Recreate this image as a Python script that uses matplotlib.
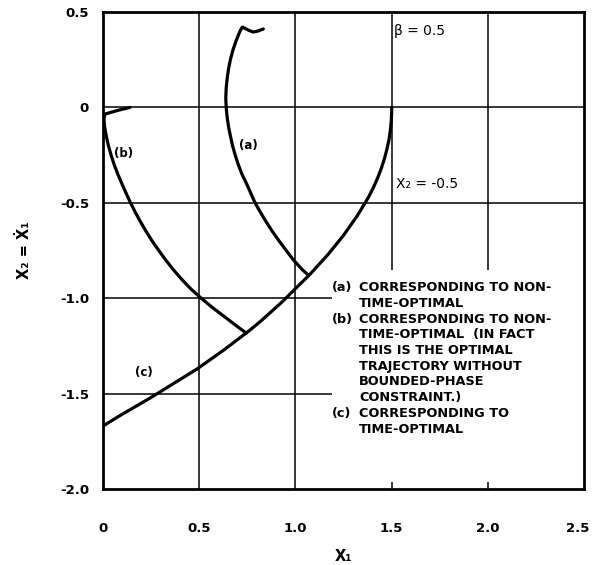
import matplotlib
matplotlib.use("Agg")
import matplotlib.pyplot as plt
from matplotlib.transforms import ScaledTranslation

# Trayectorias (x1, x2)
a_x1 = [0.833, 0.805, 0.78, 0.755, 0.724, 0.712, 0.692, 0.675, 0.662, 0.652, 0.645, 0.64,
        0.638, 0.64, 0.645, 0.652, 0.662, 0.673, 0.687, 0.703, 0.722, 0.746, 0.768, 0.79,
        0.818, 0.848, 0.88, 0.915, 0.952, 0.99, 1.035, 1.068]
a_x2 = [0.411, 0.40, 0.395, 0.405, 0.421, 0.40, 0.35, 0.30, 0.25, 0.20, 0.15, 0.10,
        0.05, 0.0, -0.05, -0.10, -0.15, -0.20, -0.25, -0.30, -0.35, -0.40, -0.45, -0.50,
        -0.55, -0.60, -0.65, -0.70, -0.75, -0.80, -0.85, -0.88]

b_x1 = [0.14, 0.08, 0.01, 0.005, 0.008, 0.017, 0.028, 0.042, 0.058, 0.077, 0.098, 0.12,
        0.143, 0.168, 0.195, 0.224, 0.255, 0.29, 0.326, 0.365, 0.408, 0.455, 0.51, 0.57,
        0.635, 0.70, 0.745]
b_x2 = [0.0, -0.015, -0.035, -0.06, -0.10, -0.15, -0.20, -0.25, -0.30, -0.35, -0.40, -0.45,
        -0.50, -0.55, -0.60, -0.65, -0.70, -0.75, -0.80, -0.85, -0.90, -0.95, -1.00, -1.05,
        -1.10, -1.15, -1.183]

c_x1 = [0.0, 0.08, 0.165, 0.25, 0.33, 0.41, 0.49, 0.56, 0.63, 0.695, 0.76, 0.82, 0.875,
        0.93, 0.98, 1.03, 1.08, 1.125, 1.17, 1.21, 1.25, 1.285, 1.32, 1.35, 1.38, 1.405,
        1.427, 1.446, 1.462, 1.475, 1.486, 1.493, 1.498, 1.50, 1.50]
c_x2 = [-1.67, -1.62, -1.57, -1.52, -1.47, -1.42, -1.37, -1.32, -1.27, -1.22, -1.17,
        -1.12, -1.07, -1.02, -0.97, -0.92, -0.87, -0.82, -0.77, -0.72, -0.67, -0.62,
        -0.57, -0.52, -0.47, -0.42, -0.37, -0.32, -0.27, -0.22, -0.17, -0.12, -0.07,
        -0.02, 0.0]

x_ticks = [0, 0.5, 1.0, 1.5, 2.0, 2.5]
x_tick_labels = ["0", "0.5", "1.0", "1.5", "2.0", "2.5"]
y_ticks = [0.5, 0, -0.5, -1.0, -1.5, -2.0]
y_tick_labels = ["0.5", "0", "-0.5", "-1.0", "-1.5", "-2.0"]

notes = [
    ("(a)", ["CORRESPONDING TO NON-", "TIME-OPTIMAL"]),
    ("(b)", ["CORRESPONDING TO NON-", "TIME-OPTIMAL  (IN FACT", "THIS IS THE OPTIMAL",
             "TRAJECTORY WITHOUT", "BOUNDED-PHASE", "CONSTRAINT.)"]),
    ("(c)", ["CORRESPONDING TO", "TIME-OPTIMAL"]),
]

fig = plt.figure(figsize=(5.94, 5.65), dpi=100)
ax = fig.add_axes([0.1734, 0.1345, 0.810, 0.8443])
ax.set_xlim(0, 2.5)
ax.set_ylim(-2.0, 0.5)

# ---------- Rejilla (algunas lineas cortadas por el texto) ----------
gkw = dict(color="black", lw=1.1, zorder=1)
ax.vlines([0.5, 1.0], -2.0, 0.5, **gkw)
ax.vlines([1.5, 2.0], -0.852, 0.5, **gkw)
ax.vlines([1.5, 2.0], -2.0, -1.965, **gkw)
ax.hlines([0.0, -0.5], 0, 2.5, **gkw)
ax.hlines([-1.0, -1.5], 0, 1.19, **gkw)

# ---------- Curvas ----------
lkw = dict(color="black", lw=2.3, solid_joinstyle="round", solid_capstyle="round", zorder=3)
ax.plot(a_x1, a_x2, **lkw)
ax.plot(b_x1, b_x2, **lkw)
ax.plot(c_x1, c_x2, **lkw)

# ---------- Textos ----------
ax.text(0.755, -0.20, "(a)", fontsize=8.5, fontweight="bold", ha="center", va="center")
ax.text(0.105, -0.24, "(b)", fontsize=8.5, fontweight="bold", ha="center", va="center")
ax.text(0.21, -1.39, "(c)", fontsize=8.5, fontweight="bold", ha="center", va="center")
ax.text(1.51, 0.40, "β = 0.5", fontsize=10, ha="left", va="center")
ax.text(1.52, -0.40, "X₂ = -0.5", fontsize=10, ha="left", va="center")

y = -0.945
step = 0.0823
for tag, lines in notes:
    ax.text(1.19, y, tag, fontsize=9.3, fontweight="bold", ha="left", va="center")
    for line in lines:
        ax.text(1.33, y, line, fontsize=9.3, fontweight="bold", ha="left", va="center")
        y -= step

# ---------- Ejes ----------
ax.set_xticks(x_ticks)
ax.set_xticklabels(x_tick_labels, fontsize=9.5, fontweight="bold")
ax.set_yticks(y_ticks)
ax.set_yticklabels(y_tick_labels, fontsize=9.5, fontweight="bold")
ax.tick_params(length=0)
ax.tick_params(axis="x", pad=24)
ax.tick_params(axis="y", pad=10)
last = ax.get_xticklabels()[-1]
last.set_transform(last.get_transform() + ScaledTranslation(-5 / 72, 0, fig.dpi_scale_trans))
for s in ax.spines.values():
    s.set_linewidth(2.0)
ax.set_xlabel("X₁", fontsize=10.5, fontweight="bold", labelpad=10)
ax.set_ylabel("X₂ = Ẋ₁", fontsize=10.5, fontweight="bold", labelpad=20)

fig.savefig("out.png", dpi=100)
